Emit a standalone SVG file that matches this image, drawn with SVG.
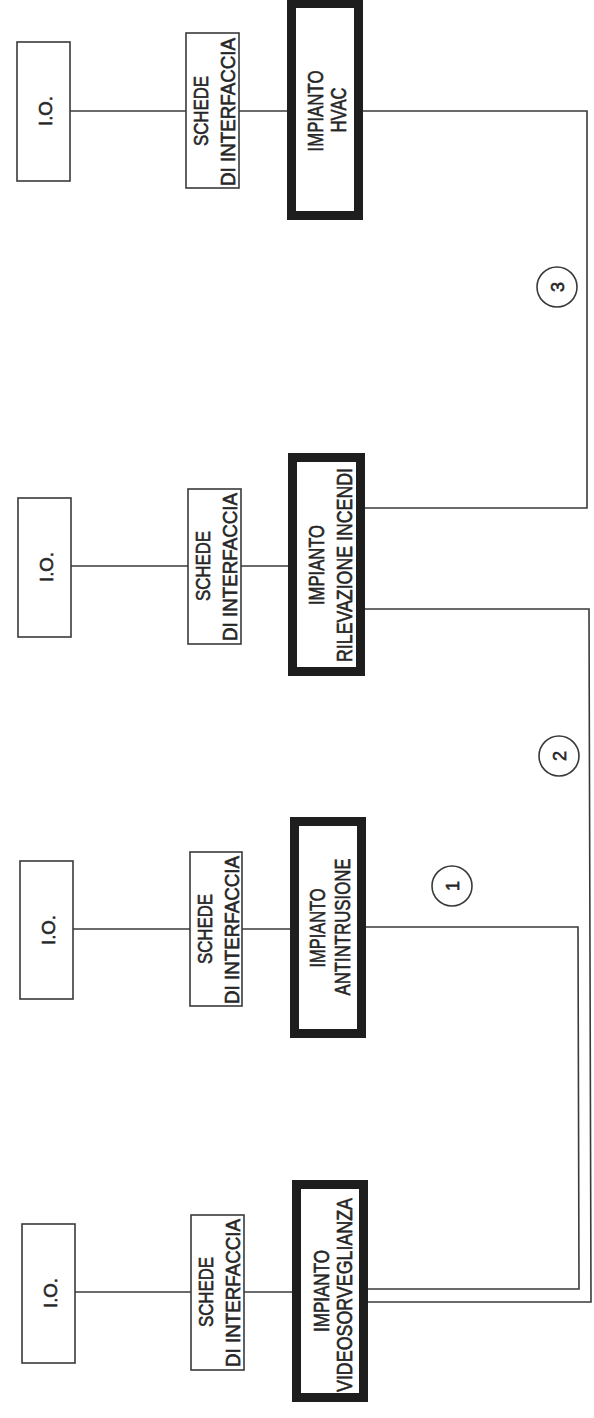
<svg xmlns="http://www.w3.org/2000/svg" width="594" height="1418" viewBox="0 0 594 1418">
<style>
.thin{fill:#fff;stroke:#3a3a3a;stroke-width:1.6}
.thick{fill:#fff;stroke:#1e1e1e;stroke-width:9}
.wire{fill:none;stroke:#3a3a3a;stroke-width:1.6}
.t{font-family:"Liberation Sans",Arial,sans-serif;fill:#262626;stroke:#262626;stroke-width:0.6;text-anchor:middle}
.io{font-size:18px}
.sc{font-size:20px}
.im{font-size:22px}
.num{font-size:18px}
</style>
<rect width="594" height="1418" fill="#fff"/>
<g id="connectors">
<line class="wire" x1="70" y1="111" x2="186" y2="111"/>
<line class="wire" x1="239" y1="111" x2="287" y2="111"/>
<line class="wire" x1="71" y1="566" x2="188" y2="566"/>
<line class="wire" x1="241" y1="566" x2="288" y2="566"/>
<line class="wire" x1="73" y1="929" x2="190" y2="929"/>
<line class="wire" x1="242" y1="929" x2="290" y2="929"/>
<line class="wire" x1="75" y1="1292" x2="191" y2="1292"/>
<line class="wire" x1="244" y1="1292" x2="292" y2="1292"/>
<polyline id="link3" class="wire" points="363,111 587,111 587,508 365,508"/>
<polyline id="link2" class="wire" points="365,609 589,609 591,1302 368,1302"/>
<polyline id="link1" class="wire" points="366,927 578,927 579,1289 368,1289"/>
</g>
<g id="io1"><rect class="thin" x="17" y="42" width="53" height="139"/><text class="t io" transform="translate(52,111) rotate(-90)" textLength="30" lengthAdjust="spacingAndGlyphs">I.O.</text></g>
<g id="schede1"><rect class="thin" x="186" y="33" width="53" height="155"/><text class="t sc" transform="translate(208,111) rotate(-90)" textLength="70" lengthAdjust="spacingAndGlyphs">SCHEDE</text><text class="t sc" transform="translate(235,112) rotate(-90)" textLength="148" lengthAdjust="spacingAndGlyphs">DI  INTERFACCIA</text></g>
<g id="hvac"><rect class="thick" x="291.5" y="3.5" width="67" height="212"/><text class="t im" transform="translate(323,111) rotate(-90)" textLength="81" lengthAdjust="spacingAndGlyphs">IMPIANTO</text><text class="t im" transform="translate(346,110) rotate(-90)" textLength="45" lengthAdjust="spacingAndGlyphs">HVAC</text></g>

<g id="io2"><rect class="thin" x="18" y="498" width="53" height="139"/><text class="t io" transform="translate(53,567) rotate(-90)" textLength="30" lengthAdjust="spacingAndGlyphs">I.O.</text></g>
<g id="schede2"><rect class="thin" x="188" y="489" width="53" height="155"/><text class="t sc" transform="translate(210,566) rotate(-90)" textLength="70" lengthAdjust="spacingAndGlyphs">SCHEDE</text><text class="t sc" transform="translate(237,567) rotate(-90)" textLength="148" lengthAdjust="spacingAndGlyphs">DI  INTERFACCIA</text></g>
<g id="rilevazione"><rect class="thick" x="292.5" y="457.5" width="68" height="214"/><text class="t im" transform="translate(324,565) rotate(-90)" textLength="80" lengthAdjust="spacingAndGlyphs">IMPIANTO</text><text class="t im" transform="translate(352,565) rotate(-90)" textLength="194" lengthAdjust="spacingAndGlyphs">RILEVAZIONE  INCENDI</text></g>

<g id="io3"><rect class="thin" x="20" y="861" width="53" height="138"/><text class="t io" transform="translate(55,930) rotate(-90)" textLength="30" lengthAdjust="spacingAndGlyphs">I.O.</text></g>
<g id="schede3"><rect class="thin" x="190" y="852" width="52" height="154"/><text class="t sc" transform="translate(212,929) rotate(-90)" textLength="70" lengthAdjust="spacingAndGlyphs">SCHEDE</text><text class="t sc" transform="translate(239,930) rotate(-90)" textLength="148" lengthAdjust="spacingAndGlyphs">DI  INTERFACCIA</text></g>
<g id="antintrusione"><rect class="thick" x="294.5" y="821.5" width="67" height="212"/><text class="t im" transform="translate(325,928) rotate(-90)" textLength="79" lengthAdjust="spacingAndGlyphs">IMPIANTO</text><text class="t im" transform="translate(350,927) rotate(-90)" textLength="137" lengthAdjust="spacingAndGlyphs">ANTINTRUSIONE</text></g>

<g id="io4"><rect class="thin" x="22" y="1224" width="53" height="139"/><text class="t io" transform="translate(57,1293) rotate(-90)" textLength="30" lengthAdjust="spacingAndGlyphs">I.O.</text></g>
<g id="schede4"><rect class="thin" x="191" y="1215" width="53" height="155"/><text class="t sc" transform="translate(213,1292) rotate(-90)" textLength="70" lengthAdjust="spacingAndGlyphs">SCHEDE</text><text class="t sc" transform="translate(240,1293) rotate(-90)" textLength="148" lengthAdjust="spacingAndGlyphs">DI  INTERFACCIA</text></g>
<g id="videosorveglianza"><rect class="thick" x="296.5" y="1184.5" width="67" height="213"/><text class="t im" transform="translate(329,1291) rotate(-90)" textLength="82" lengthAdjust="spacingAndGlyphs">IMPIANTO</text><text class="t im" transform="translate(352,1295) rotate(-90)" textLength="194" lengthAdjust="spacingAndGlyphs">VIDEOSORVEGLIANZA</text></g>

<g id="label1"><circle class="thin" cx="452" cy="886" r="20"/><text class="t num" transform="translate(458.5,886) rotate(-90)">1</text></g>
<g id="label2"><circle class="thin" cx="559" cy="756" r="20"/><text class="t num" transform="translate(565.5,756) rotate(-90)">2</text></g>
<g id="label3"><circle class="thin" cx="557" cy="287" r="20"/><text class="t num" transform="translate(563.5,287) rotate(-90)">3</text></g>
</svg>
